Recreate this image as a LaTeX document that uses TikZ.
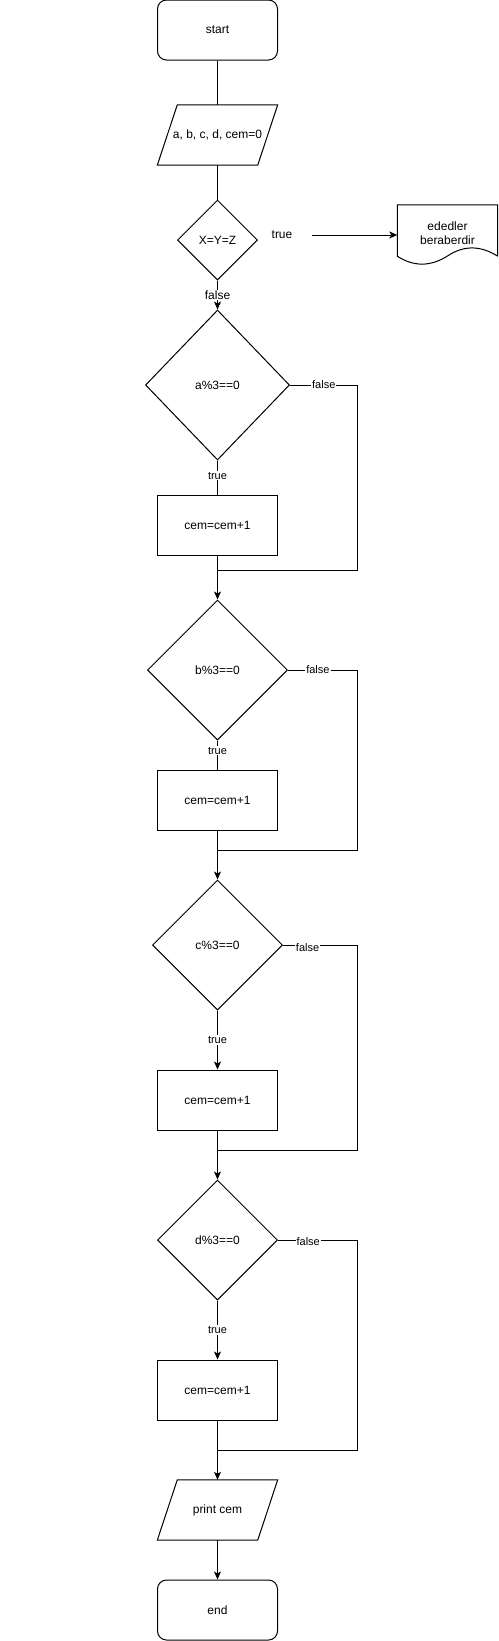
\documentclass[tikz,border=0pt]{standalone}
\usepackage{fontspec}
\setmainfont{Liberation Sans}
\usetikzlibrary{shapes.geometric,arrows.meta,calc}
\begin{document}
\begin{tikzpicture}[x=1pt,y=-1pt,
  every node/.style={font=\fontsize{12}{14}\selectfont},
  line/.style={draw=black,line width=1pt},
  arr/.style={line,-{Stealth[length=8pt,width=7pt,inset=2pt]}},
  termbox/.style={draw,line width=1pt,rounded corners=9pt,minimum width=120pt,minimum height=60pt,inner sep=0pt},
  procbox/.style={draw,line width=1pt,minimum width=120pt,minimum height=60pt,inner sep=0pt},
  iobox/.style={minimum width=120pt,minimum height=60pt,inner sep=0pt},
  decision/.style={draw,line width=1pt,shape=diamond,inner sep=0pt},
  lbl/.style={font=\fontsize{11}{13}\selectfont,fill=white,inner sep=1pt},
  lblbig/.style={font=\fontsize{12}{14}\selectfont,fill=white,inner sep=1pt}
]
\useasboundingbox (0,0) rectangle (498,1641);

% nodes
\node[termbox] (start) at (217.5,30) {start};
\node[iobox] (in) at (217.5,135) {a, b, c, d, cem=0};
\draw[line] ([xshift=20pt]in.north west) -- (in.north east) -- ([xshift=-20pt]in.south east) -- (in.south west) -- cycle;
\node[decision,minimum width=80pt,minimum height=80pt] (xyz) at (217.5,240) {X=Y=Z};
\node[minimum width=100pt,minimum height=60pt,inner sep=0pt] (doc) at (447.5,235)
  {\raisebox{10pt}{\begin{tabular}{@{}c@{}}ededler\\beraberdir\end{tabular}}};
\draw[line] ([yshift=9pt]doc.south east) -- (doc.north east) -- (doc.north west) -- ([yshift=9pt]doc.south west)
  .. controls (413.67,266.8) and (430.33,266.8) .. (447.5,256)
  .. controls (463.67,245.2) and (480.33,245.2) .. ([yshift=9pt]doc.south east);
\node (tl) at (282,235) {true};
\coordinate (ts) at (312,235);

\node[decision,minimum width=144pt,minimum height=150pt] (a) at (217.5,385) {a\%3==0};
\node[procbox] (b1) at (217.5,525) {cem=cem+1};
\node[decision,minimum width=140pt,minimum height=140pt] (b) at (217.5,670) {b\%3==0};
\node[procbox] (b2) at (217.5,800) {cem=cem+1};
\node[decision,minimum width=130pt,minimum height=130pt] (c) at (217.5,945) {c\%3==0};
\node[procbox] (b3) at (217.5,1100) {cem=cem+1};
\node[decision,minimum width=120pt,minimum height=120pt] (d) at (217.5,1240) {d\%3==0};
\node[procbox] (b4) at (217.5,1390) {cem=cem+1};
\node[iobox] (pr) at (217.5,1510) {print cem};
\draw[line] ([xshift=20pt]pr.north west) -- (pr.north east) -- ([xshift=-20pt]pr.south east) -- (pr.south west) -- cycle;
\node[termbox] (end) at (217.5,1610) {end};

% helper coordinates
\coordinate (m1) at (217.5,570);
\coordinate (m2) at (217.5,850);
\coordinate (m3) at (217.5,1150);
\coordinate (m4) at (217.5,1450);
\coordinate (r1) at (357.5,385);
\coordinate (r2) at (357.5,670);
\coordinate (r3) at (357.5,945);
\coordinate (r4) at (357.5,1240);

% connectors
\draw[line] (start) -- (in);
\draw[line] (in) -- (xyz);
\draw[arr] (ts) -- (doc.west);
\draw[arr] (xyz) -- node[lblbig] {false} (a);

\draw[line] (a) -- node[lbl,pos=0.45] {true} (b1);
\draw[line] (a.east) -- node[lbl] {false} (r1) |- (m1);
\draw[line] (b1) -- (m1);
\draw[arr] (m1) -- (b);

\draw[line] (b) -- node[lbl,pos=0.35] {true} (b2);
\draw[line] (b.east) -- node[lbl,pos=0.43] {false} (r2) |- (m2);
\draw[line] (b2) -- (m2);
\draw[arr] (m2) -- (c);

\draw[arr] (c) -- node[lbl] {true} (b3);
\draw[line] (c.east) -- node[lbl,pos=0.33,yshift=-3pt] {false} (r3) |- (m3);
\draw[line] (b3) -- (m3);
\draw[arr] (m3) -- (d);

\draw[arr] (d) -- node[lbl] {true} (b4);
\draw[line] (d.east) -- node[lbl,pos=0.38,yshift=-2pt] {false} (r4) |- (m4);
\draw[line] (b4) -- (m4);
\draw[arr] (m4) -- (pr);

\draw[arr] (pr) -- (end);
\end{tikzpicture}
\end{document}
